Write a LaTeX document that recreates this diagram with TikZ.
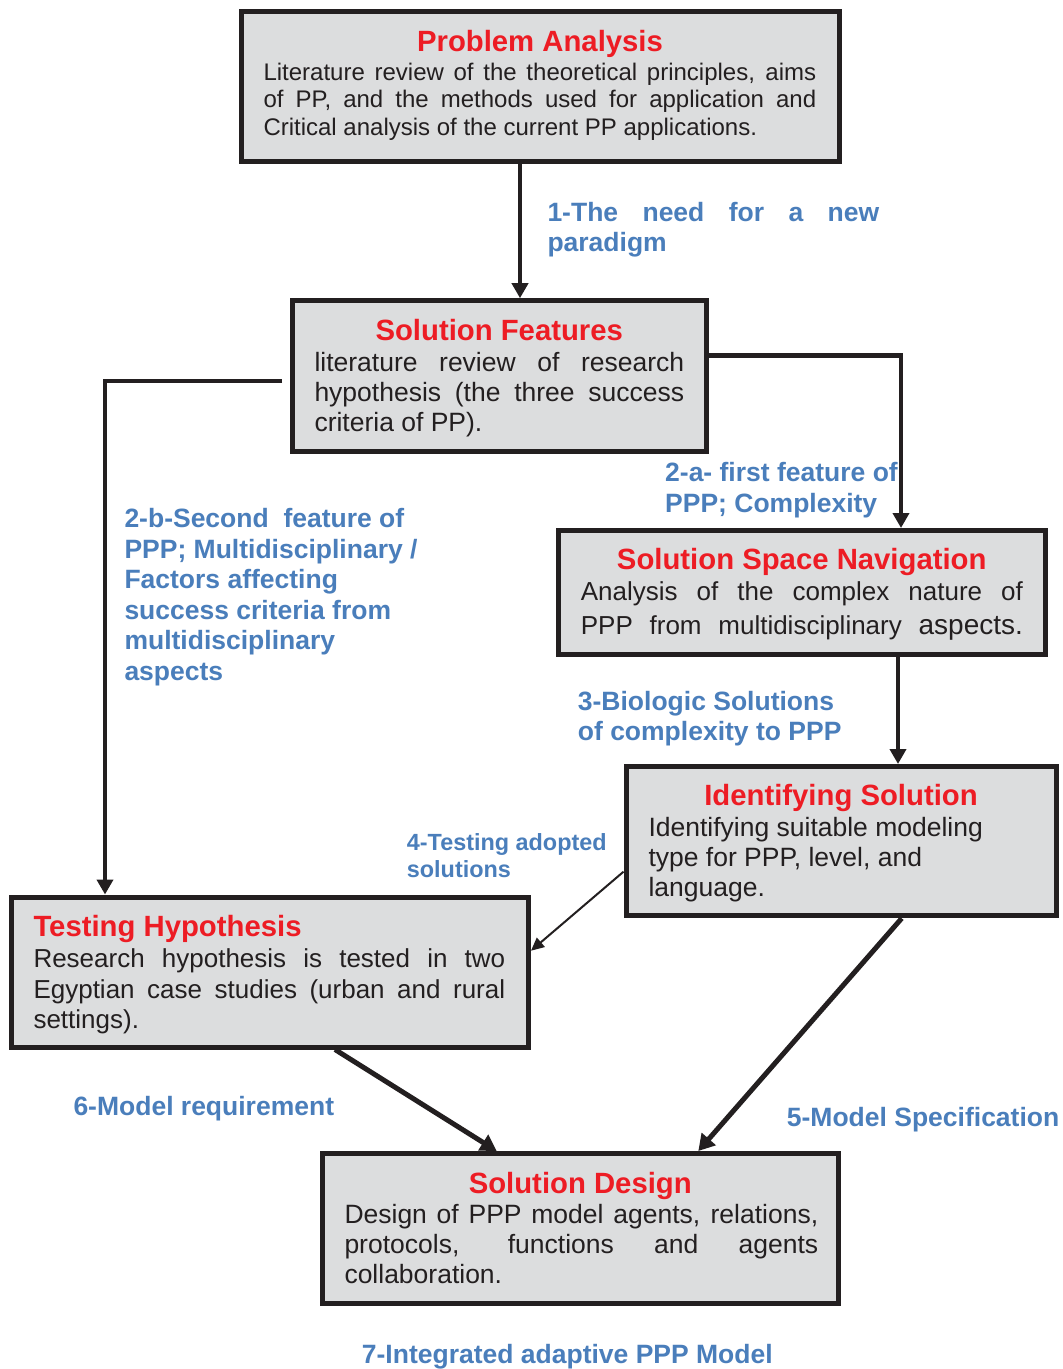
\documentclass[tikz,border=0pt]{standalone}
\usepackage{fontspec}
\setmainfont{Liberation Sans}
\usetikzlibrary{arrows.meta}

\definecolor{boxfill}{HTML}{DCDDDE}
\definecolor{edge}{HTML}{231F20}
\definecolor{ttlred}{HTML}{ED1C24}
\definecolor{lblblue}{HTML}{4A7EBB}

\newcommand\bodyfont[2]{\fontsize{#1}{#2}\selectfont}

\begin{document}
\hyphenpenalty=10000
\exhyphenpenalty=10000
\tolerance=10000
\hbadness=10000
\begin{tikzpicture}[x=1pt,y=-1pt,line join=miter,
  box/.style={draw=edge,fill=boxfill,line width=5pt,rectangle,inner sep=0pt},
  ttl/.style={inner sep=0pt,anchor=base,text=ttlred,font=\bfseries\fontsize{29.3}{33}\selectfont},
  body/.style={inner sep=0pt,anchor=base west,text=edge},
  lbl/.style={inner sep=0pt,anchor=base west,text=lblblue,font=\bfseries},
  arr/.style={draw=edge,line width=4.6pt,-{Triangle[width=16pt,length=15pt]}},
  thinarr/.style={draw=edge,line width=2pt,-{Triangle[width=12pt,length=13pt]}},
  diagarr/.style={draw=edge,line width=5pt,-{Triangle[width=18pt,length=16pt]}}]

\fill[white] (0,0) rectangle (1063,1369);
\useasboundingbox (0,0) rectangle (1063,1369);

% boxes
\node[box,minimum width=598pt,minimum height=150.7pt] (pa) at (540,86.35) {};
\node[box,minimum width=414.5pt,minimum height=150.8pt] (sf) at (499.25,376.1) {};
\node[box,minimum width=486.5pt,minimum height=124pt] (ssn) at (801.75,592.5) {};
\node[box,minimum width=430pt,minimum height=149.3pt] (is) at (841,841.15) {};
\node[box,minimum width=516.7pt,minimum height=150pt] (th) at (270.15,972) {};
\node[box,minimum width=516.5pt,minimum height=149.7pt] (sd) at (580.25,1228.35) {};

% titles
\node[ttl] (pa-t) at (540,51) {Problem Analysis};
\node[ttl] (sf-t) at (499.25,340) {Solution Features};
\node[ttl] (ssn-t) at (801.75,569.3) {Solution Space Navigation};
\node[ttl] (is-t) at (841,805) {Identifying Solution};
\node[ttl,anchor=base west] (th-t) at (33.3,936.7) {Testing Hypothesis};
\node[ttl] (sd-t) at (580.25,1193.3) {Solution Design};

% box texts
\node[body] (pa-b) at (263.3,80) {\parbox[t]{552.7pt}{\bodyfont{24}{27.5}Literature review of the theoretical principles, aims\linebreak of PP, and the methods used for application and\linebreak Critical analysis of the current PP applications.}};
\node[body] (sf-b) at (314.3,371) {\parbox[t]{369.7pt}{\bodyfont{26.5}{30.3}literature review of research\linebreak hypothesis (the three success\linebreak criteria of PP).}};
\node[body] (ssn-b) at (580.7,600.7) {\parbox[t]{442pt}{\bodyfont{26}{33.3}\parfillskip=0pt Analysis of the complex nature of\linebreak PPP from multidisciplinary {\fontsize{28}{33.3}\selectfont aspects.}}};
\node[body] (is-b) at (648.3,836) {\parbox[t]{400pt}{\raggedright\bodyfont{26.5}{30}Identifying suitable modeling\\type for PPP, level, and\\language.}};
\node[body] (th-b) at (33.3,967.7) {\parbox[t]{471.7pt}{\bodyfont{26}{30.3}Research hypothesis is tested in two\linebreak Egyptian case studies (urban and rural\linebreak settings).}};
\node[body] (sd-b) at (344.3,1223.3) {\parbox[t]{473.7pt}{\bodyfont{26.5}{30.3}Design of PPP model agents, relations,\linebreak protocols, functions and agents\linebreak collaboration.}};

% connector labels
\node[lbl] (l1) at (547.3,221.7) {\parbox[t]{331.7pt}{\bodyfont{26.5}{30}1-The need for a new\linebreak paradigm}};
\node[lbl] (l2a) at (665,481.7) {\parbox[t]{350pt}{\raggedright\bodyfont{26.5}{31}2-a- first feature of\\PPP; Complexity}};
\node[lbl] (l2b) at (124.3,527.7) {\parbox[t]{350pt}{\raggedright\bodyfont{26.5}{30.5}2-b-Second~ feature of\\PPP; Multidisciplinary /\\Factors affecting\\success criteria from\\multidisciplinary\\aspects}};
\node[lbl] (l3) at (577.7,710) {\parbox[t]{350pt}{\raggedright\bodyfont{26.5}{30.7}3-Biologic Solutions\\of complexity to PPP}};
\node[lbl] (l4) at (406.7,850.7) {\parbox[t]{300pt}{\raggedright\bodyfont{23.4}{26.6}4-Testing adopted\\solutions}};
\node[lbl,font=\bfseries\fontsize{26.5}{30}\selectfont] (l5) at (786.7,1126.7) {5-Model Specification};
\node[lbl,font=\bfseries\fontsize{26.5}{30}\selectfont] (l6) at (73.3,1115) {6-Model requirement};
\node[lbl,font=\bfseries\fontsize{26.5}{30}\selectfont] (l7) at (361.7,1363.3) {7-Integrated adaptive PPP Model};

% connector guide points
\coordinate (x1) at (520,0);
\coordinate (c2a) at (901,355.7);
\coordinate (c2b) at (282,381);
\coordinate (k2b) at (105,381);
\coordinate (x3) at (898,0);
\coordinate (y4a) at (0,871.7);
\coordinate (y4b) at (0,950.7);
\coordinate (x5a) at (901.7,0);
\coordinate (x5b) at (698.3,0);
\coordinate (x6a) at (335,0);
\coordinate (x6b) at (496.7,0);

% connectors
\draw[arr] (x1 |- pa.south) -- (x1 |- sf.north);
\draw[arr] (c2a -| sf.east) -- (c2a) -- (c2a |- ssn.north);
\draw[arr] (c2b) -- (k2b) -- (k2b |- th.north);
\draw[arr] (x3 |- ssn.south) -- (x3 |- is.north);
\draw[thinarr] (is.west |- y4a) -- (th.east |- y4b);
\draw[diagarr] (x5a |- is.south) -- (x5b |- sd.north);
\draw[diagarr] (x6a |- th.south) -- (x6b |- sd.north);
\end{tikzpicture}
\end{document}
